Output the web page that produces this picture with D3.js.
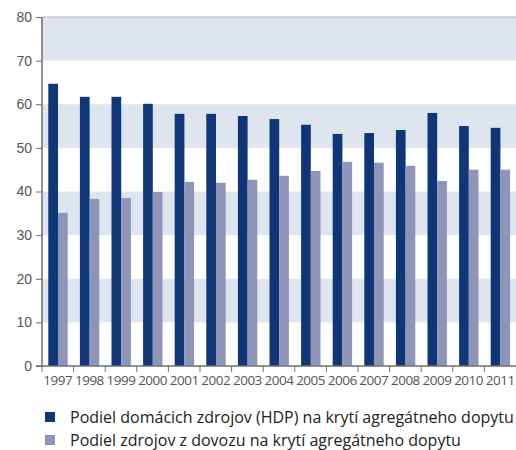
<!DOCTYPE html>
<html>
<head>
<meta charset="utf-8">
<script src="https://cdn.jsdelivr.net/npm/d3@7/dist/d3.min.js"></script>
<style>
  body { margin: 0; background: #fff; }
  svg { display: block; font-family: "Open Sans", "Noto Sans", sans-serif; }
</style>
</head>
<body>
<div id="chart"></div>
<script>
var years = ["1997","1998","1999","2000","2001","2002","2003","2004","2005","2006","2007","2008","2009","2010","2011"];
var domestic = [64.7, 61.7, 61.7, 60.1, 57.8, 57.8, 57.3, 56.6, 55.3, 53.2, 53.4, 54.1, 58.0, 55.0, 54.6];
var imports = [35.1, 38.3, 38.5, 39.9, 42.2, 42.0, 42.7, 43.6, 44.7, 46.8, 46.6, 45.9, 42.4, 45.0, 45.0];
var yTicks = [0, 10, 20, 30, 40, 50, 60, 70, 80];
var seriesNames = ["Podiel domácich zdrojov (HDP) na krytí agregátneho dopytu",
                   "Podiel zdrojov z dovozu na krytí agregátneho dopytu"];
var colors = ["#0f3677", "#8f94b9"];

var width = 516, height = 450;
var plotLeft = 42, plotRight = 516, plotTop = 17, plotBottom = 366;

var svg = d3.select("#chart").append("svg")
    .attr("width", width)
    .attr("height", height);

var x = d3.scaleBand().domain(years).range([plotLeft, plotRight]).paddingInner(0).paddingOuter(0);
var y = d3.scaleLinear().domain([0, 80]).range([plotBottom, plotTop]);

// shaded bands 10-20, 30-40, 50-60, 70-80
var bands = [[10, 20], [30, 40], [50, 60], [70, 80]];
svg.selectAll(".band")
    .data(bands)
    .enter()
    .append("rect")
    .attr("class", "band")
    .attr("x", plotLeft)
    .attr("width", plotRight - plotLeft)
    .attr("y", function(d){ return y(d[1]); })
    .attr("height", function(d){ return y(d[0]) - y(d[1]); })
    .style("fill", "#dfe5ef");

// top line at 80
svg.append("line")
    .attr("x1", plotLeft).attr("x2", plotRight)
    .attr("y1", y(80)).attr("y2", y(80))
    .style("stroke", "#b4b4b4")
    .style("stroke-width", 1);

var barW = 9.7;
var offset = 6.3;

svg.selectAll(".dom")
    .data(domestic)
    .enter()
    .append("rect")
    .attr("class", "dom")
    .attr("x", function(d, i){ return x(years[i]) + offset; })
    .attr("width", barW)
    .attr("y", function(d){ return y(d); })
    .attr("height", function(d){ return y(0) - y(d); })
    .style("fill", colors[0]);

svg.selectAll(".imp")
    .data(imports)
    .enter()
    .append("rect")
    .attr("class", "imp")
    .attr("x", function(d, i){ return x(years[i]) + offset + barW; })
    .attr("width", barW)
    .attr("y", function(d){ return y(d); })
    .attr("height", function(d){ return y(0) - y(d); })
    .style("fill", colors[1]);

// y axis
var yAxis = svg.append("g")
    .attr("transform", "translate(" + plotLeft + ",0)")
    .call(d3.axisLeft(y).tickValues(yTicks).tickSize(6).tickPadding(4));
yAxis.select(".domain").style("stroke", "#6e6e6e").style("stroke-width", 1.5).attr("d", "M0," + y(80) + "V" + (y(0) + 0.5));
yAxis.selectAll(".tick line").style("stroke", "#6e6e6e");
yAxis.selectAll("text").style("font-size", "14px").style("fill", "#555");

// x axis: ticks at category boundaries
var xAxis = svg.append("g")
    .attr("transform", "translate(0," + plotBottom + ")");
xAxis.append("line")
    .attr("x1", plotLeft - 6).attr("x2", plotRight)
    .attr("y1", 0).attr("y2", 0)
    .style("stroke", "#6e6e6e").style("stroke-width", 1.5);
xAxis.selectAll(".xt")
    .data(years)
    .enter()
    .append("line")
    .attr("class", "xt")
    .attr("x1", function(d){ return x(d); })
    .attr("x2", function(d){ return x(d); })
    .attr("y1", 0).attr("y2", 6)
    .style("stroke", "#6e6e6e");
xAxis.selectAll(".xl")
    .data(years)
    .enter()
    .append("text")
    .attr("class", "xl")
    .attr("x", function(d){ return x(d) + x.bandwidth() / 2; })
    .attr("y", 19)
    .attr("text-anchor", "middle")
    .style("font-size", "13.5px")
    .style("letter-spacing", "-0.5px")
    .style("fill", "#555")
    .text(function(d){ return d; });

// legend
var legend = svg.selectAll(".legend")
    .data(seriesNames)
    .enter()
    .append("g")
    .attr("class", "legend")
    .attr("transform", function(d, i){ return "translate(45," + (412 + i * 23) + ")"; });
legend.append("rect")
    .attr("width", 10).attr("height", 10)
    .style("fill", function(d, i){ return colors[i]; });
legend.append("text")
    .attr("x", 25)
    .attr("y", 10.5)
    .style("font-size", "16px")
    .style("fill", "#222")
    .text(function(d){ return d; });
</script>
</body>
</html>
